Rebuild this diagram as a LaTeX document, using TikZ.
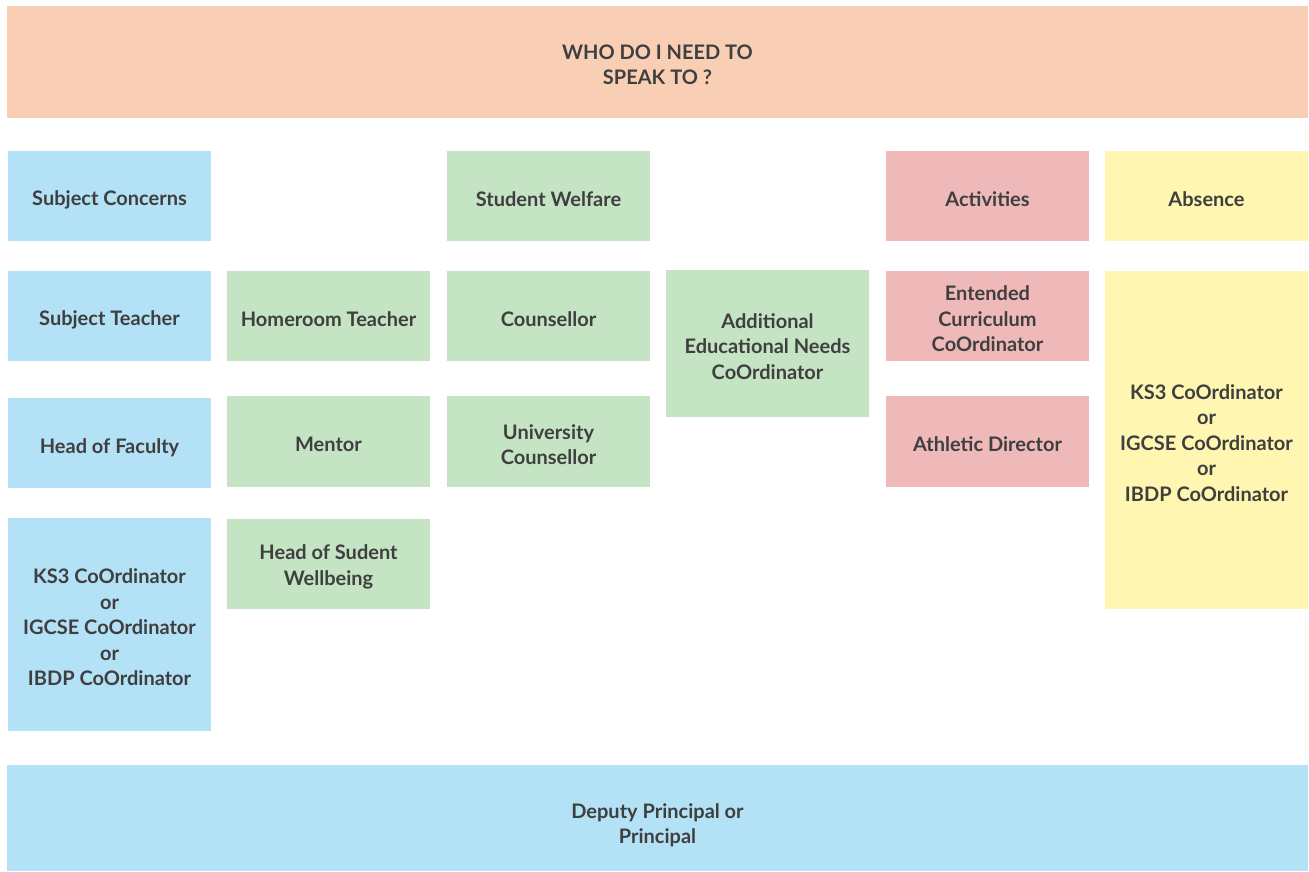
\documentclass[tikz,border=0pt]{standalone}
\usepackage{fontspec}
\setmainfont{Lato}
\definecolor{peach}{HTML}{F8CFB5}
\definecolor{sky}{HTML}{B3E1F5}
\definecolor{mint}{HTML}{C5E4C4}
\definecolor{rose}{HTML}{F0B9B9}
\definecolor{lemon}{HTML}{FEF6B1}
\definecolor{ink}{HTML}{3F3F3F}
\tikzset{
  box/.style={rectangle, inner sep=0pt, outer sep=0pt, align=center, text=ink,
    font=\fontsize{20}{25.5}\selectfont\bfseries},
}
\newcommand{\bx}[8][3]{% [nudge] name, color, x1, y1, x2, y2, text
  \fill[#3] (#4,#5) rectangle (#6,#7);
  \node[box] (#2) at ({(#4+#6)/2},{(#5+#7)/2+#1}) {#8};}
\begin{document}
\begin{tikzpicture}[x=1pt,y=-1pt]
\useasboundingbox[fill=white] (0,0) rectangle (1309,872);
\bx{top}{peach}{7}{6}{1308}{118}{WHO DO I NEED TO\\SPEAK TO ?}
\bx[7]{bottom}{sky}{7}{765}{1308}{871}{Deputy Principal or\\Principal}
% column 1
\bx[4]{sc}{sky}{8}{151}{211}{241}{Subject Concerns}
\bx[4]{st}{sky}{8}{271}{211}{361}{Subject Teacher}
\bx[5]{hf}{sky}{8}{398}{211}{488}{Head of Faculty}
\bx{kb}{sky}{8}{518}{211}{731}{KS3 CoOrdinator\\or\\IGCSE CoOrdinator\\or\\IBDP CoOrdinator}
% column 2
\bx{ht}{mint}{227}{271}{430}{361}{Homeroom Teacher}
\bx{me}{mint}{227}{396}{430}{487}{Mentor}
\bx{hw}{mint}{227}{519}{430}{609}{Head of Sudent\\Wellbeing}
% column 3
\bx{sw}{mint}{447}{151}{650}{241}{Student Welfare}
\bx{co}{mint}{447}{271}{650}{361}{Counsellor}
\bx{uc}{mint}{447}{396}{650}{487}{University\\Counsellor}
% column 4
\bx{ae}{mint}{666}{270}{869}{417}{Additional\\Educational Needs\\CoOrdinator}
% column 5
\bx{ac}{rose}{886}{151}{1089}{241}{Activities}
\bx{ec}{rose}{886}{271}{1089}{361}{Entended\\Curriculum\\CoOrdinator}
\bx{ad}{rose}{886}{396}{1089}{487}{Athletic Director}
% column 6
\bx{ab}{lemon}{1105}{151}{1308}{241}{Absence}
\bx{ky}{lemon}{1105}{271}{1308}{609}{KS3 CoOrdinator\\or\\IGCSE CoOrdinator\\or\\IBDP CoOrdinator}
\end{tikzpicture}
\end{document}
